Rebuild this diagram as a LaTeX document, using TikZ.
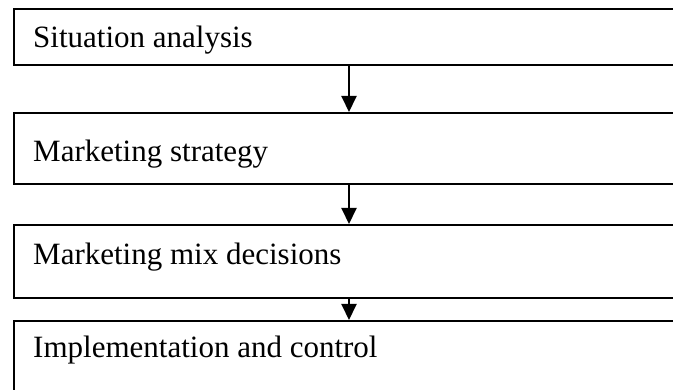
\documentclass[tikz,border=0pt]{standalone}
\usepackage{fontspec}
\setmainfont{Liberation Serif}
\usetikzlibrary{arrows.meta}

\tikzset{
  stage/.style={draw=black, line width=2pt, rectangle, minimum width=690pt,
                anchor=north west, inner sep=0pt},
  stagetext/.style={anchor=base west, inner sep=0pt,
                    font=\fontsize{31pt}{36pt}\selectfont},
  flow/.style={line width=2pt, -{Triangle[width=15pt,length=16pt]}}
}

\begin{document}
\begin{tikzpicture}[x=1pt, y=-1pt]
  \useasboundingbox (0,0) rectangle (673,390);
  \clip (0,0) rectangle (673,390);
  \fill[white] (0,0) rectangle (673,390);

  % the four stages, open to the right and bottom edges
  \node[stage, minimum height=56pt] (s1) at (13,8) {};
  \node[stage, minimum height=71pt] (s2) at (13,112) {};
  \node[stage, minimum height=73pt] (s3) at (13,224) {};
  \node[stage, minimum height=100pt] (s4) at (13,320) {};

  \node[stagetext] (t1) at (33,48)  {Situation analysis};
  \node[stagetext] (t2) at (33,162) {Marketing strategy};
  \node[stagetext] (t3) at (33,265) {Marketing mix decisions};
  \node[stagetext] (t4) at (33,358) {Implementation and control};

  % connectors between consecutive stages
  \coordinate (ax) at (349,0);
  \draw[flow] (s1.south -| ax) -- (s2.north -| ax);
  \draw[flow] (s2.south -| ax) -- (s3.north -| ax);
  \draw[flow] (s3.south -| ax) -- (s4.north -| ax);
\end{tikzpicture}
\end{document}
